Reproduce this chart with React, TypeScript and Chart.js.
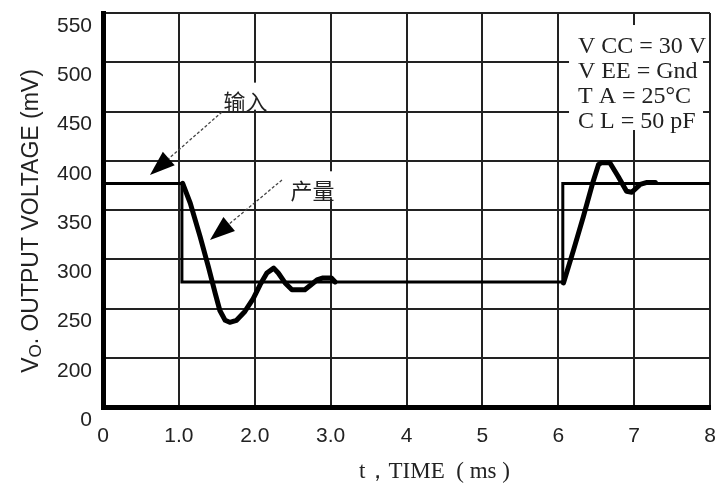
import React, { useEffect, useRef } from "react";
import { Chart, registerables } from "chart.js";

Chart.register(...registerables);

// Axis ticks
const xTickValues = [0, 1, 2, 3, 4, 5, 6, 7, 8];
const xTickLabels = ["0", "1.0", "2.0", "3.0", "4", "5", "6", "7", "8"];
const yTickValues = [150, 200, 250, 300, 350, 400, 450, 500, 550];
const yTickLabels = ["0", "200", "250", "300", "350", "400", "450", "500", "550"];

// Input step (输入), time in ms, voltage in mV
const inputTime = [0, 1.04, 1.04, 6.06, 6.06, 8];
const inputVoltage = [377, 377, 277, 277, 377, 377];

// Output response (产量); null splits the two visible pieces
const outputTime = [
  1.05, 1.15, 1.28, 1.39, 1.48, 1.54, 1.61, 1.67, 1.76, 1.87, 1.98, 2.07, 2.16, 2.25,
  2.31, 2.4, 2.49, 2.66, 2.82, 2.9, 3.01, 3.06,
  4.5,
  6.07, 6.2, 6.33, 6.46, 6.53, 6.57, 6.68, 6.79, 6.9, 6.97, 7.08, 7.17, 7.28,
];
const outputVoltage = [
  377, 357, 323, 292, 265, 248, 238, 236, 238, 247, 260, 274, 286, 291,
  286, 276, 269, 269, 279, 281, 281, 277,
  null,
  276, 309, 343, 379, 396, 398, 398, 384, 369, 368, 376, 378, 378,
];

// Annotations (data coordinates)
const inputLabel = { text: "输入", t: 1.878, v: 460 };
const outputLabel = { text: "产量", t: 2.761, v: 370 };
const inputArrow = { fromT: 1.568, fromV: 449.5, toT: 0.619, toV: 385.5 };
const outputArrow = { fromT: 2.359, fromV: 380.5, toT: 1.41, toV: 319.5 };
const conditionLines = ["V CC = 30 V", "V EE = Gnd", "T A = 25°C", "C L = 50 pF"];
const conditionPos = { t: 6.26, v: 509.4, lineStepV: 25.4 };
const conditionBox = { t0: 6.142, t1: 7.908, v0: 431.2, v1: 537.8 };

const xTitle = "t，TIME  ( ms )";
const yTitleMain = "V";
const yTitleSub = "O";
const yTitleRest = ". OUTPUT VOLTAGE (mV)";

const SANS = '"Liberation Sans", Arial, sans-serif';
const SERIF = '"Liberation Serif", "Times New Roman", serif';
const CJK = '"Noto Sans CJK SC", sans-serif';

const annotationPlugin = {
  id: "annotations",
  afterDraw(chart: any) {
    const { ctx, scales } = chart;
    const xs = scales.x;
    const ys = scales.y;
    const px = (t: number) => xs.getPixelForValue(t);
    const py = (v: number) => ys.getPixelForValue(v);
    ctx.save();

    // conditions box
    ctx.fillStyle = "#fff";
    ctx.fillRect(
      px(conditionBox.t0),
      py(conditionBox.v1),
      px(conditionBox.t1) - px(conditionBox.t0),
      py(conditionBox.v0) - py(conditionBox.v1)
    );
    ctx.fillStyle = "#222";
    ctx.font = `24px ${SERIF}`;
    ctx.textAlign = "left";
    ctx.textBaseline = "alphabetic";
    conditionLines.forEach((line, i) => {
      ctx.fillText(line, px(conditionPos.t), py(conditionPos.v - i * conditionPos.lineStepV));
    });

    // labels with white backing
    ctx.font = `22px ${CJK}`;
    ctx.textAlign = "center";
    ctx.textBaseline = "middle";
    [inputLabel, outputLabel].forEach((lab) => {
      const cx = px(lab.t);
      const cy = py(lab.v);
      const w = ctx.measureText(lab.text).width;
      ctx.fillStyle = "#fff";
      ctx.fillRect(cx - w / 2 - 2, cy - 19, w + 4, 27);
      ctx.fillStyle = "#222";
      ctx.fillText(lab.text, cx, cy);
    });

    // arrows
    [inputArrow, outputArrow].forEach((a) => {
      const x0 = px(a.fromT), y0 = py(a.fromV), x1 = px(a.toT), y1 = py(a.toV);
      const dx = x1 - x0, dy = y1 - y0;
      const len = Math.hypot(dx, dy);
      const ux = dx / len, uy = dy / len;
      const headLen = 25, headW = 9;
      const bx = x1 - ux * headLen, by = y1 - uy * headLen;
      ctx.strokeStyle = "#444";
      ctx.lineWidth = 1.3;
      ctx.setLineDash([3, 2]);
      ctx.beginPath();
      ctx.moveTo(x0, y0);
      ctx.lineTo(bx, by);
      ctx.stroke();
      ctx.setLineDash([]);
      ctx.fillStyle = "#000";
      ctx.beginPath();
      ctx.moveTo(x1, y1);
      ctx.lineTo(bx - uy * headW, by + ux * headW);
      ctx.lineTo(bx + uy * headW, by - ux * headW);
      ctx.closePath();
      ctx.fill();
    });

    // x-axis title
    ctx.fillStyle = "#222";
    ctx.font = `23px ${SERIF}`;
    ctx.textAlign = "center";
    ctx.textBaseline = "alphabetic";
    ctx.fillText(xTitle, (xs.left + xs.right) / 2 + 28, xs.bottom - 13);

    // y-axis title (rotated, with subscript)
    const cyTitle = (ys.top + ys.bottom) / 2 + 11;
    ctx.save();
    ctx.translate(38, cyTitle);
    ctx.rotate(-Math.PI / 2);
    ctx.textAlign = "left";
    ctx.font = `23px ${SANS}`;
    const w1 = ctx.measureText(yTitleMain).width;
    const w3 = ctx.measureText(yTitleRest).width;
    ctx.font = `17px ${SANS}`;
    const w2 = ctx.measureText(yTitleSub).width;
    const start = -(w1 + w2 + w3) / 2;
    ctx.font = `23px ${SANS}`;
    ctx.fillText(yTitleMain, start, 0);
    ctx.font = `17px ${SANS}`;
    ctx.fillText(yTitleSub, start + w1, 3);
    ctx.font = `23px ${SANS}`;
    ctx.fillText(yTitleRest, start + w1 + w2, 0);
    ctx.restore();

    ctx.restore();
  },
};

export default function App() {
  const canvasRef = useRef<HTMLCanvasElement | null>(null);

  useEffect(() => {
    const canvas = canvasRef.current;
    if (!canvas) return;
    const inputData = inputTime.map((t, i) => ({ x: t, y: inputVoltage[i] }));
    const outputData = outputTime.map((t, i) => ({ x: t, y: outputVoltage[i] }));

    const chart = new Chart(canvas, {
      type: "line",
      data: {
        datasets: [
          {
            label: "输入",
            data: inputData as any,
            borderColor: "#000",
            borderWidth: 3,
            pointRadius: 0,
            tension: 0,
            fill: false,
            borderJoinStyle: "miter",
          },
          {
            label: "产量",
            data: outputData as any,
            borderColor: "#000",
            borderWidth: 5,
            pointRadius: 0,
            tension: 0,
            fill: false,
            spanGaps: false,
            borderJoinStyle: "round",
            borderCapStyle: "round",
          },
        ],
      },
      options: {
        responsive: false,
        animation: false,
        layout: { padding: { left: 0, top: 13, right: 6, bottom: 0 } },
        plugins: {
          legend: { display: false },
          tooltip: { enabled: false },
        },
        scales: {
          x: {
            type: "linear",
            min: 0,
            max: 8,
            afterBuildTicks: (scale: any) => {
              scale.ticks = xTickValues.map((v) => ({ value: v }));
            },
            afterFit: (scale: any) => {
              scale.height = 84;
              scale.paddingLeft = 0;
              scale.paddingRight = 0;
              scale.paddingTop = 0;
              scale.paddingBottom = 0;
            },
            ticks: {
              autoSkip: false,
              maxRotation: 0,
              padding: 17,
              color: "#222",
              font: { family: SANS, size: 21 },
              callback: (value: any) => {
                const i = xTickValues.indexOf(Number(value));
                return i >= 0 ? xTickLabels[i] : "";
              },
            },
            grid: { color: "#222", lineWidth: 2, drawTicks: false },
            border: { display: true, color: "#000", width: 5 },
          },
          y: {
            type: "linear",
            min: 150,
            max: 550,
            afterBuildTicks: (scale: any) => {
              scale.ticks = yTickValues.map((v) => ({ value: v }));
            },
            afterFit: (scale: any) => {
              scale.width = 103;
              scale.paddingLeft = 0;
              scale.paddingRight = 0;
              scale.paddingTop = 0;
              scale.paddingBottom = 0;
            },
            ticks: {
              autoSkip: false,
              padding: 11,
              labelOffset: 13,
              color: "#222",
              font: { family: SANS, size: 21 },
              callback: (value: any) => {
                const i = yTickValues.indexOf(Number(value));
                return i >= 0 ? yTickLabels[i] : "";
              },
            },
            grid: { color: "#222", lineWidth: 2, drawTicks: false },
            border: { display: true, color: "#000", width: 5 },
          },
        },
      },
      plugins: [annotationPlugin],
    });

    return () => chart.destroy();
  }, []);

  return (
    <div style={{ position: "fixed", left: 0, top: 0, width: 716, height: 491, background: "#fff" }}>
      <canvas ref={canvasRef} width={716} height={491} style={{ display: "block" }} />
    </div>
  );
}
